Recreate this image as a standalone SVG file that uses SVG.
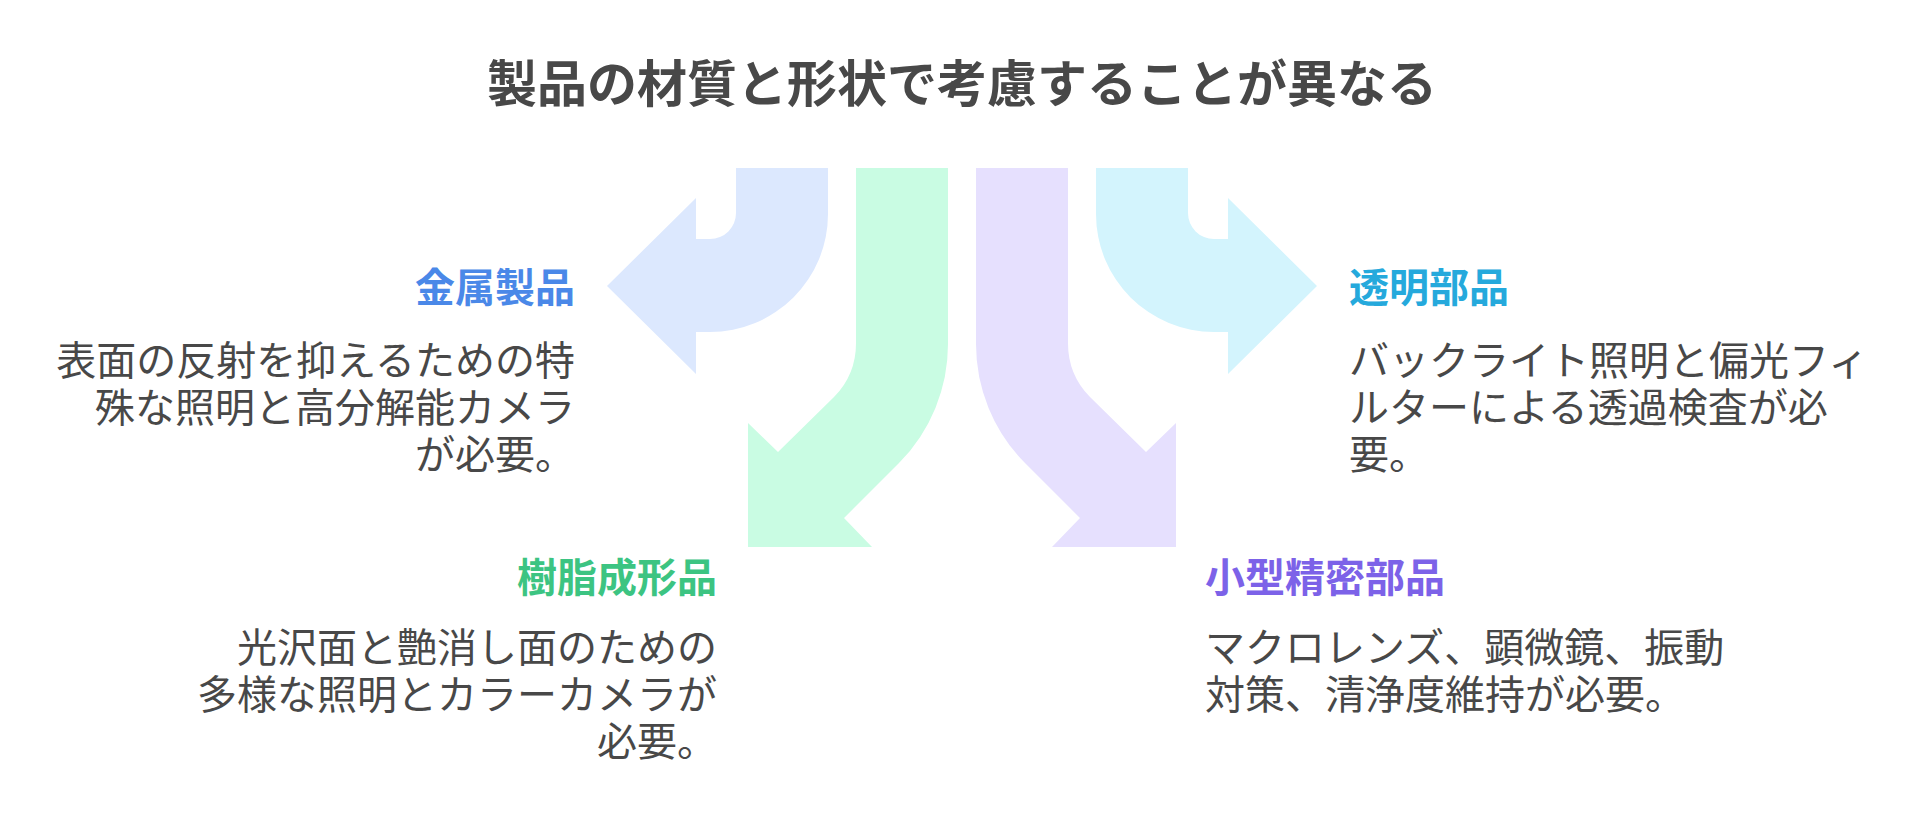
<svg xmlns="http://www.w3.org/2000/svg" width="1924" height="816" viewBox="0 0 1924 816">
<style>
text{font-family:"Noto Sans CJK JP","Noto Sans",sans-serif;}
.title{font-size:50px;font-weight:700;fill:#484848;}
.head{font-size:40px;font-weight:700;}
.body{font-size:40px;fill:#484848;}
.end{text-anchor:end;}
</style>
<rect width="1924" height="816" fill="#ffffff"/>
<text class="title" x="962" y="102" text-anchor="middle">製品の材質と形状で考慮することが異なる</text>
<g id="connectors">
<path id="arrow-metal" fill="#DCE8FE" d="M736,168 L736,213 A26,26 0 0 1 710,239 L696,239 L696,198 L607,286 L696,374 L696,332 L710,332 A118,118 0 0 0 828,214 L828,168 Z"/>
<path id="arrow-resin" fill="#C9FCE3" d="M856,168 L856,343 A77,77 0 0 1 834,397 L778,452 L748,423 L748,547 L872,547 L844,518 L899,463 A169,169 0 0 0 948,343 L948,168 Z"/>
<path id="arrow-small" fill="#E6E0FE" d="M1068,168 L1068,343 A77,77 0 0 0 1090,397 L1146,452 L1176,423 L1176,547 L1052,547 L1080,518 L1025,463 A169,169 0 0 1 976,343 L976,168 Z"/>
<path id="arrow-clear" fill="#D3F4FD" d="M1188,168 L1188,213 A26,26 0 0 0 1214,239 L1228,239 L1228,198 L1317,286 L1228,374 L1228,332 L1214,332 A118,118 0 0 1 1096,214 L1096,168 Z"/>
</g>
<g id="node-metal">
<text class="head end" x="575" y="302" fill="#4A88E8">金属製品</text>
<text class="body end" x="575" y="375">表面の反射を抑えるための特</text>
<text class="body end" x="575" y="422">殊な照明と高分解能カメラ</text>
<text class="body end" x="575" y="469">が必要。</text>
</g>
<g id="node-clear">
<text class="head" x="1349" y="302" fill="#25A9DC">透明部品</text>
<text class="body" x="1349" y="375">バックライト照明と偏光フィ</text>
<text class="body" x="1349" y="422">ルターによる透過検査が必</text>
<text class="body" x="1349" y="469">要。</text>
</g>
<g id="node-resin">
<text class="head end" x="717" y="592" fill="#3CC482">樹脂成形品</text>
<text class="body end" x="717" y="662">光沢面と艶消し面のための</text>
<text class="body end" x="717" y="709">多様な照明とカラーカメラが</text>
<text class="body end" x="717" y="756">必要。</text>
</g>
<g id="node-small">
<text class="head" x="1205" y="592" fill="#7C62E8">小型精密部品</text>
<text class="body" x="1205" y="662">マクロレンズ、顕微鏡、振動</text>
<text class="body" x="1205" y="709">対策、清浄度維持が必要。</text>
</g>
</svg>
